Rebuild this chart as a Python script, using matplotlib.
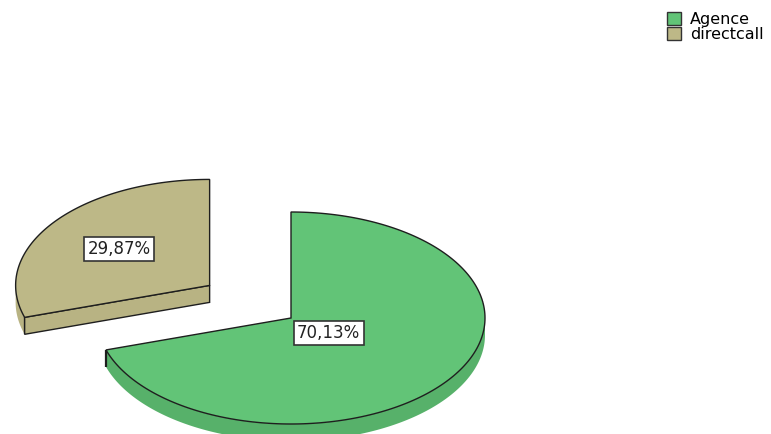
import numpy as np
import matplotlib
matplotlib.use("Agg")
import matplotlib.pyplot as plt
from matplotlib.patches import Polygon, Patch

categories = ["Agence", "directcall"]
percentages = [70.13, 29.87]
labels = ["70,13%", "29,87%"]
colors = ["#62C477", "#BDB887"]
side_colors = ["#57B16A", "#B8B383"]
explode = [0.0, 0.52]
label_radius = [0.24, 0.58]

W, H = 771, 434
fig = plt.figure(figsize=(W / 100, H / 100), dpi=100)
ax = fig.add_axes([0, 0, 1, 1])

# pie centre and radii in pixels (tilted pie: horizontal > vertical radius)
cx_px, cy_px, rx_px, ry_px = 291, 318, 194, 106
ax.set_xlim(-cx_px / rx_px, (W - cx_px) / rx_px)
ax.set_ylim(-(H - cy_px) / ry_px, cy_px / ry_px)
ax.axis("off")

depth = 0.16     # rim thickness in radius units
edge = "#1e1e1e"
lw = 1.0

# wedge angles: start at 12 o'clock, go clockwise
spans = []
start = 90.0
for p in percentages:
    sweep = 360.0 * p / 100.0
    spans.append((start - sweep, start))
    start -= sweep


def arc(t1, t2, ox, oy, n=200):
    t = np.radians(np.linspace(t1, t2, n))
    return np.column_stack([ox + np.cos(t), oy + np.sin(t)])


# back slice first, front slice last
for i in [1, 0]:
    t1, t2 = spans[i]
    mid = np.radians((t1 + t2) / 2)
    ox, oy = explode[i] * np.cos(mid), explode[i] * np.sin(mid)
    z = 2 + 3 * (1 - i)

    # outer rim on the front half of the ellipse
    lo, hi = t1, t2
    while lo < 0:
        lo += 360
        hi += 360
    for a, b in [(180, 360), (540, 720)]:
        s, e = max(lo, a), min(hi, b)
        if e > s:
            top = arc(s, e, ox, oy)
            bot = top[::-1] - np.array([0, depth])
            ax.add_patch(Polygon(np.vstack([top, bot]), closed=True,
                                 facecolor=side_colors[i], edgecolor="none",
                                 zorder=z))
            # dark vertical edge where the rim meets a cut
            for ang in (s, e):
                if np.isclose(ang, lo) or np.isclose(ang, hi):
                    px = ox + np.cos(np.radians(ang))
                    py = oy + np.sin(np.radians(ang))
                    ax.plot([px, px], [py, py - depth], color=edge, lw=lw * 1.6,
                            solid_capstyle="butt", zorder=z)

    # radial cut faces turned toward the viewer
    for t, nrm in [(t1, t1 - 90), (t2, t2 + 90)]:
        if np.sin(np.radians(nrm)) < -1e-6:
            px = ox + np.cos(np.radians(t))
            py = oy + np.sin(np.radians(t))
            quad = [(ox, oy), (px, py), (px, py - depth), (ox, oy - depth)]
            ax.add_patch(Polygon(quad, closed=True, facecolor=side_colors[i],
                                 edgecolor=edge, lw=lw, zorder=z + 0.5))

    # top face
    pts = np.vstack([[ox, oy], arc(t1, t2, ox, oy), [ox, oy]])
    ax.add_patch(Polygon(pts, closed=True, facecolor=colors[i],
                         edgecolor=edge, lw=lw, zorder=z + 1))

    lx = ox + label_radius[i] * np.cos(mid)
    ly = oy + label_radius[i] * np.sin(mid)
    ax.text(lx, ly, labels[i], ha="center", va="center", fontsize=12,
            family="DejaVu Sans", color="#222222", zorder=10,
            bbox=dict(boxstyle="square,pad=0.2", facecolor="white",
                      edgecolor="#333333", lw=1.2))

handles = [Patch(facecolor=c, edgecolor="#333333", lw=1.0) for c in colors]
fig.legend(handles, categories, loc="upper left",
           bbox_to_anchor=(667 / W, 1 - 12 / H), frameon=False,
           handlelength=0.9, handleheight=0.9, handletextpad=0.55,
           labelspacing=0.0, borderaxespad=0, borderpad=0,
           prop={"family": "DejaVu Sans", "size": 11.5})

fig.savefig("out.png", dpi=100, facecolor="white")
